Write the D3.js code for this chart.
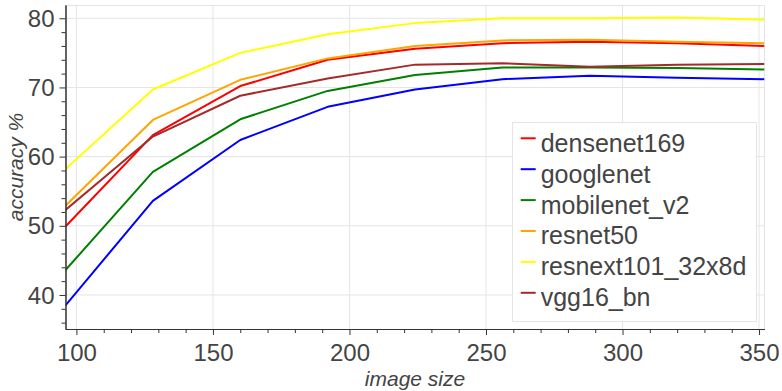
<!DOCTYPE html>
<html><head><meta charset="utf-8">
<script src="https://cdn.jsdelivr.net/npm/d3@7"></script>
<style>
html,body{margin:0;padding:0;background:#fff;}
svg{display:block;font-family:"Liberation Sans",Arial,Helvetica,sans-serif;}
</style></head>
<body>
<svg id="chart" width="782" height="391"></svg>
<script>
const imageSizes = [96, 128, 160, 192, 224, 256, 288, 320, 352];
const seriesNames = ["densenet169", "googlenet", "mobilenet_v2", "resnet50", "resnext101_32x8d", "vgg16_bn"];
const seriesColors = ["red", "blue", "green", "orange", "yellow", "brown"];
const densenet169 = [49.9, 63.1, 70.2, 74.0, 75.6, 76.4, 76.6, 76.4, 76.0];
const googlenet = [38.5, 53.6, 62.4, 67.2, 69.7, 71.2, 71.7, 71.4, 71.2];
const mobilenet_v2 = [43.6, 57.8, 65.4, 69.5, 71.8, 72.9, 72.9, 72.8, 72.6];
const resnet50 = [52.9, 65.3, 71.1, 74.2, 76.0, 76.8, 76.9, 76.6, 76.4];
const resnext101_32x8d = [58.2, 69.7, 75.0, 77.7, 79.3, 80.0, 80.0, 80.1, 79.8];
const vgg16_bn = [52.3, 62.9, 68.8, 71.3, 73.3, 73.5, 73.0, 73.3, 73.4];
const seriesValues = [densenet169, googlenet, mobilenet_v2, resnet50, resnext101_32x8d, vgg16_bn];
const xTicks = [100, 150, 200, 250, 300, 350];
const yTicks = [40, 50, 60, 70, 80];
const xLabel = "image size";
const yLabel = "accuracy %";

const svg = d3.select("#chart");
const L = 65.5, R = 764.5, T = 5, B = 329;
const x = d3.scaleLinear().domain([96, 352]).range([L, R]);
const y = d3.scaleLinear().domain([35.08, 81.92]).range([B, T]);

// outline
svg.append("rect").attr("x", L).attr("y", T + 0.5).attr("width", R - L).attr("height", B - T)
  .attr("fill", "none").attr("stroke", "#e5e5e5").attr("stroke-width", 1);

// grid
const grid = svg.append("g");
xTicks.forEach(t => grid.append("line").attr("x1", x(t)).attr("x2", x(t)).attr("y1", T).attr("y2", B)
  .attr("stroke", "#e5e5e5").attr("stroke-width", 1));
yTicks.forEach(t => grid.append("line").attr("x1", L).attr("x2", R).attr("y1", y(t)).attr("y2", y(t))
  .attr("stroke", "#e5e5e5").attr("stroke-width", 1));

// clip
svg.append("clipPath").attr("id", "clip").append("rect").attr("x", L).attr("y", T).attr("width", R - L).attr("height", B - T);

// lines
const line = d3.line().x((d, i) => x(imageSizes[i])).y(d => y(d));
const lines = svg.append("g").attr("clip-path", "url(#clip)");
seriesValues.forEach((vals, k) => {
  lines.append("path").datum(vals).attr("d", line).attr("fill", "none")
    .attr("stroke", seriesColors[k]).attr("stroke-width", 2).attr("stroke-linejoin", "round");
});

// axes
const xMinor = d3.range(100, 353, 10).filter(v => !xTicks.includes(v));
const yMinor = d3.range(36, 82, 2).filter(v => !yTicks.includes(v));
const xAxis = svg.append("g").attr("transform", `translate(0,${B})`)
  .call(d3.axisBottom(x).tickValues(xTicks).tickSize(6).tickPadding(7).tickSizeOuter(0));
const xAxisMinor = svg.append("g").attr("transform", `translate(0,${B})`)
  .call(d3.axisBottom(x).tickValues(xMinor).tickSize(4).tickFormat("").tickSizeOuter(0));
const yAxis = svg.append("g").attr("transform", `translate(${L},0)`)
  .call(d3.axisLeft(y).tickValues(yTicks).tickSize(6).tickPadding(5).tickSizeOuter(0));
const yAxisMinor = svg.append("g").attr("transform", `translate(${L},0)`)
  .call(d3.axisLeft(y).tickValues(yMinor).tickSize(4).tickFormat("").tickSizeOuter(0));
[xAxis, xAxisMinor, yAxis, yAxisMinor].forEach(g => {
  g.selectAll("path.domain").attr("stroke", "#333").attr("stroke-width", 1);
  g.selectAll(".tick line").attr("stroke", "#333");
  g.selectAll("text").attr("fill", "#444").style("font-size", "24px")
    .style("font-family", "'Liberation Sans', Arial, sans-serif");
});
xAxis.selectAll("text").attr("dy", "0.78em");
yAxis.selectAll("text").attr("dy", "0.34em");

// axis labels
svg.append("text").attr("x", (L + R) / 2).attr("y", 386).attr("text-anchor", "middle")
  .attr("fill", "#444").style("font-size", "21px").style("font-style", "italic").text(xLabel);
svg.append("text").attr("transform", `translate(23,${(T + B) / 2}) rotate(-90)`).attr("text-anchor", "middle")
  .attr("fill", "#444").style("font-size", "21px").style("font-style", "italic").text(yLabel);

// legend
const lg = svg.append("g");
lg.append("rect").attr("x", 512.5).attr("y", 122.5).attr("width", 244).attr("height", 199)
  .attr("fill", "#fff").attr("fill-opacity", 0.95).attr("stroke", "#e5e5e5").attr("stroke-width", 1);
seriesNames.forEach((name, k) => {
  const gy = 138.3 + k * 30.9;
  lg.append("line").attr("x1", 520.7).attr("x2", 535.7).attr("y1", gy).attr("y2", gy)
    .attr("stroke", seriesColors[k]).attr("stroke-width", 2);
  lg.append("text").attr("x", 540.7).attr("y", 151.7 + k * 30.9).attr("fill", "#444")
    .style("font-size", "25px").text(name);
});
</script>
</body></html>
